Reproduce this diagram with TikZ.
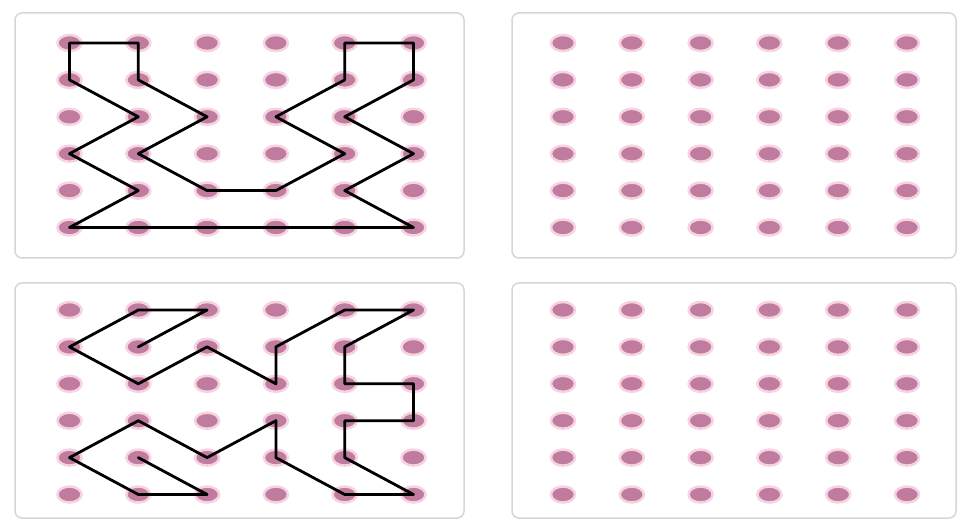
\documentclass[tikz,border=0pt]{standalone}
\usepackage{tikz}
\usetikzlibrary{shapes.geometric}

\definecolor{dotmauve}{RGB}{192,124,158}
\definecolor{dothalo}{RGB}{246,210,226}
\definecolor{panelgray}{RGB}{214,214,214}

\begin{document}
\begin{tikzpicture}[
  x=1pt, y=-1pt,
  panel/.style={draw=panelgray, line width=1.5pt, rounded corners=7pt},
  dot/.style={ellipse, fill=dotmauve, draw=dothalo, line width=2.5pt, inner sep=0pt, minimum width=24pt, minimum height=16pt},
  outline/.style={draw=black, line width=2.8pt, line join=round, line cap=round}
]
\useasboundingbox[fill=white] (0,0) rectangle (958,521);
% panels
\draw[panel] (15,13) rectangle (464,258);
\draw[panel] (512,13) rectangle (956,258);
\draw[panel] (15,283) rectangle (464,518);
\draw[panel] (512,283) rectangle (956,518);
% dot grids
\foreach \g/\ox/\oy in {tl/69.5/43, tr/563/43, bl/69.5/310, br/563/310} {
  \foreach \c in {0,...,5} {
    \foreach \r in {0,...,5} {
      \node[dot] (\g-\c-\r) at ({\ox+68.8*\c},{\oy+36.9*\r}) {};
    }
  }
}
% top left figure
\draw[outline] (tl-0-0.center)
  \foreach \p in {1-0,1-1,2-2,1-3,2-4,3-4,4-3,3-2,4-1,4-0,5-0,5-1,4-2,5-3,4-4,5-5,0-5,1-4,0-3,1-2,0-1} {
    -- (tl-\p.center)
  } -- cycle;
% bottom left figure
\draw[outline] (bl-1-1.center)
  \foreach \p in {2-0,1-0,0-1,1-2,2-1,3-2,3-1,4-0,5-0,4-1,4-2,5-2,5-3,4-3,4-4,5-5,4-5,3-4,3-3,2-4,1-3,0-4,1-5,2-5,1-4} {
    -- (bl-\p.center)
  };
\end{tikzpicture}
\end{document}
